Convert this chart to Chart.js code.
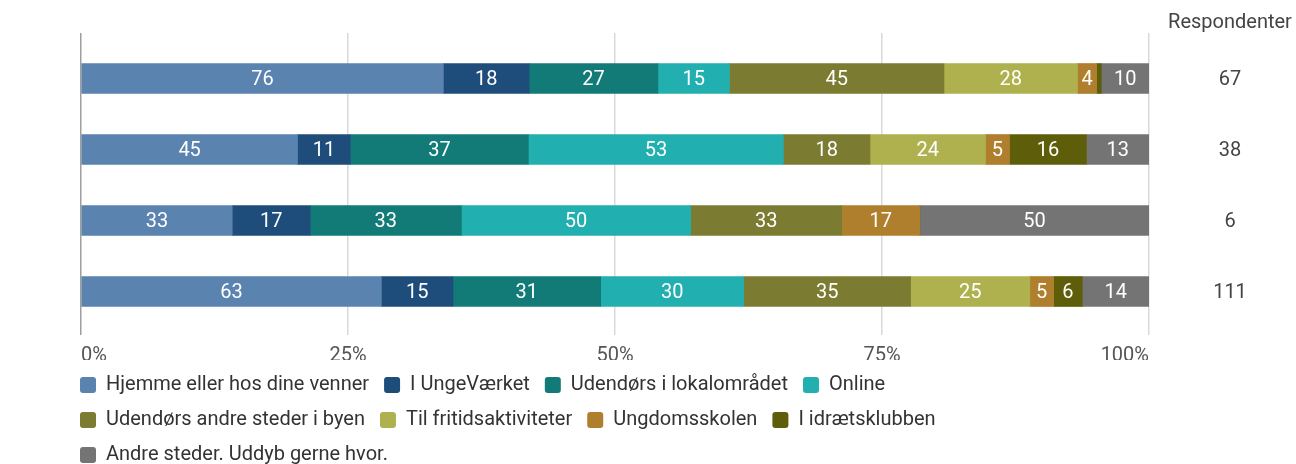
<!DOCTYPE html>
<html>
<head>
<meta charset="utf-8">
<script src="https://cdn.jsdelivr.net/npm/chart.js@4.4.0/dist/chart.umd.min.js"></script>
<style>
  html, body { margin: 0; padding: 0; background: #fff; }
  #wrap { width: 1296px; height: 464px; }
</style>
</head>
<body>
<div id="wrap"><canvas id="chart1"></canvas></div>
<script>
// data
var categories = ['Pige', 'Dreng', 'Andet', 'I alt'];
var respondents = [67, 38, 6, 111];
var seriesNames = [
  'Hjemme eller hos dine venner', 'I UngeVærket', 'Udendørs i lokalområdet', 'Online',
  'Udendørs andre steder i byen', 'Til fritidsaktiviteter', 'Ungdomsskolen', 'I idrætsklubben',
  'Andre steder. Uddyb gerne hvor.'
];
var hjemme        = [76, 45, 33, 63];
var ungevaerket   = [18, 11, 17, 15];
var udendorsLokal = [27, 37, 33, 31];
var online        = [15, 53, 50, 30];
var udendorsByen  = [45, 18, 33, 35];
var fritid        = [28, 24, 0, 25];
var ungdomsskolen = [4, 5, 17, 5];
var idraet        = [1, 16, 0, 6];
var andre         = [10, 13, 50, 14];
var xTickLabels = ['0%', '25%', '50%', '75%', '100%'];

var seriesValues = [hjemme, ungevaerket, udendorsLokal, online, udendorsByen, fritid, ungdomsskolen, idraet, andre];
var colors = ['#5a83af', '#1f4d7b', '#127b77', '#22afb0', '#7b7b31', '#afb14f', '#b07f2e', '#5e5e0a', '#747474'];

var totals = categories.map(function (c, i) {
  return seriesValues.reduce(function (s, arr) { return s + arr[i]; }, 0);
});

var legendPad = 15;
var font = 'Roboto';
Chart.defaults.font.family = font;

var datasets = seriesValues.map(function (arr, k) {
  return {
    label: seriesNames[k],
    data: arr.map(function (v, i) { return v / totals[i] * 100; }),
    counts: arr,
    backgroundColor: colors[k],
    borderWidth: 0,
    barThickness: 30
  };
});

// value labels inside the segments
var segmentLabels = {
  id: 'segmentLabels',
  afterDatasetsDraw: function (chart) {
    var ctx = chart.ctx;
    ctx.save();
    ctx.font = '20px ' + font;
    ctx.fillStyle = '#ffffff';
    ctx.textAlign = 'center';
    ctx.textBaseline = 'middle';
    chart.data.datasets.forEach(function (ds, k) {
      chart.getDatasetMeta(k).data.forEach(function (bar, i) {
        var n = ds.counts[i];
        var w = Math.abs(bar.x - bar.base);
        if (!n || ctx.measureText(String(n)).width + 6 > w) return;
        ctx.fillText(String(n), (bar.x + bar.base) / 2, bar.y + 1);
      });
    });
    ctx.restore();
  }
};

// respondent column on the right
var respondentColumn = {
  id: 'respondentColumn',
  afterDraw: function (chart) {
    var ctx = chart.ctx;
    var yScale = chart.scales.y;
    var cx = chart.chartArea.right + 81;
    ctx.save();
    ctx.font = '20px ' + font;
    ctx.fillStyle = '#444444';
    ctx.textAlign = 'center';
    ctx.textBaseline = 'middle';
    ctx.fillText('Respondenter', cx, 23);
    respondents.forEach(function (r, i) {
      ctx.fillText(String(r), cx, yScale.getPixelForValue(i) + 1);
    });
    ctx.restore();
  }
};

function gridColor(c) { return c.index === 0 ? '#9e9e9e' : '#d9d9d9'; }

var ctx = document.getElementById('chart1').getContext('2d');
var myChart = new Chart(ctx, {
  type: 'bar',
  data: { labels: categories, datasets: datasets },
  plugins: [segmentLabels, respondentColumn],
  options: {
    indexAxis: 'y',
    responsive: true,
    maintainAspectRatio: false,
    animation: false,
    layout: { padding: { top: 33, right: 147, bottom: -11, left: 80 - legendPad } },
    plugins: {
      legend: {
        position: 'bottom',
        align: 'start',
        labels: {
          boxWidth: 16,
          boxHeight: 16,
          useBorderRadius: true,
          borderRadius: 3,
          padding: legendPad,
          color: '#333333',
          font: { size: 20 }
        }
      },
      tooltip: { enabled: false }
    },
    scales: {
      x: {
        stacked: true,
        min: 0,
        max: 100,
        ticks: {
          stepSize: 25,
          align: 'inner',
          padding: 16,
          color: '#555555',
          font: { size: 20, lineHeight: 0.5 },
          callback: function (v) { return xTickLabels[v / 25]; }
        },
        grid: { color: gridColor, lineWidth: 1.5, tickLength: 8 },
        border: { display: false },
        afterFit: function (s) { s.height = 33; }
      },
      x2: {
        position: 'top',
        min: 0,
        max: 100,
        ticks: { stepSize: 25, display: false },
        grid: { color: gridColor, lineWidth: 1.5, tickLength: 10, drawOnChartArea: false },
        border: { display: false }
      },
      y: {
        stacked: true,
        grid: { display: false },
        border: { display: false },
        ticks: { padding: 16, color: '#444444', font: { size: 20 } },
        afterFit: function (s) { s.width = 81 - (80 - legendPad); }
      }
    }
  }
});
</script>
</body>
</html>
